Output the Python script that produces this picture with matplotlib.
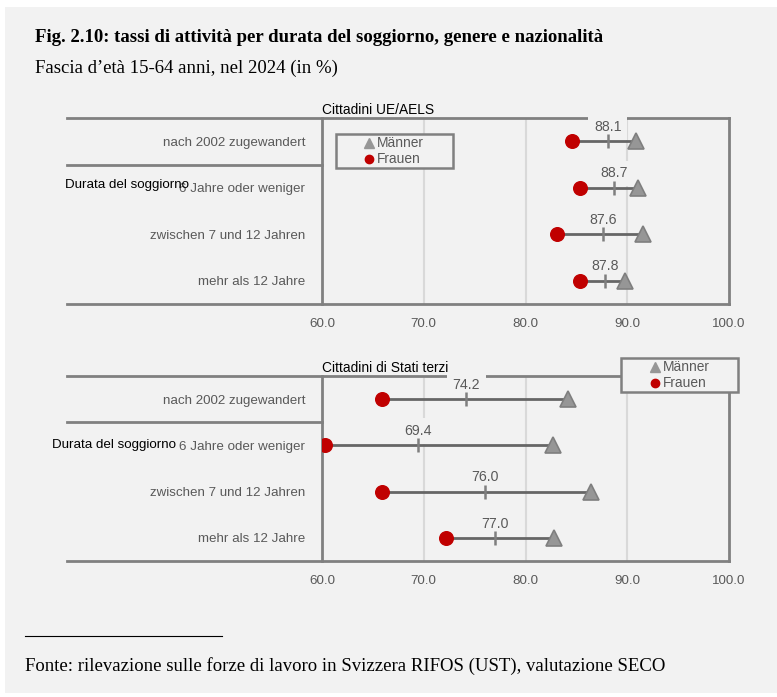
import matplotlib.pyplot as plt
import matplotlib.patches as mpatches
from matplotlib.lines import Line2D

# categories and values (activity rates, %)
ROWS = ["nach 2002 zugewandert", "6 Jahre oder weniger",
        "zwischen 7 und 12 Jahren", "mehr als 12 Jahre"]

EU_WOMEN = [84.6, 85.4, 83.1, 85.4]
EU_MEN = [90.9, 91.1, 91.5, 89.8]
EU_TOTAL = [88.1, 88.7, 87.6, 87.8]

TC_WOMEN = [65.9, 60.3, 65.9, 72.2]
TC_MEN = [84.2, 82.7, 86.4, 82.8]
TC_TOTAL = [74.2, 69.4, 76.0, 77.0]

XTICKS = [60, 70, 80, 90, 100]

BG = "#f2f2f2"
RED = "#c00000"
TRI = "#969696"
TRI_EDGE = "#7f7f7f"
FRAME = "#808080"
TXT = "#595959"

W, H = 777, 697
SANS = ["Liberation Sans", "DejaVu Sans"]
SERIF = ["Liberation Serif", "DejaVu Serif"]
FS = 9.6


def fx(x):
    return x / W


def fy(y):
    return 1 - y / H


def panel(fig, top, bottom, title, women, men, total):
    ax = fig.add_axes([fx(322), fy(bottom), fx(729) - fx(322), (bottom - top) / H])
    ax.set_facecolor("none")
    ypos = list(range(len(ROWS) - 1, -1, -1))

    for g in XTICKS[1:-1]:
        ax.axvline(g, color="#d9d9d9", lw=1.5, zorder=1)

    for y, w, m, t in zip(ypos, women, men, total):
        ax.plot([w, m], [y, y], color="#666666", lw=2, zorder=3)
        ax.plot(t, y, marker="|", ms=9.5, mew=1.8, color=TRI_EDGE, zorder=4)
        ax.plot(m, y, marker="^", ms=11, color=TRI, mec=TRI_EDGE, mew=1.2, zorder=5)
        ax.plot(w, y, marker="o", ms=9.8, color=RED, mec=RED, zorder=6)
        # label box hides frame and grid lines, but not the marks
        ax.text(t, y + 0.31, f"{t:.1f}", ha="center", va="center", fontsize=FS + 0.6,
                family=SANS, color=TXT, zorder=2.7,
                bbox=dict(boxstyle="square,pad=0.4", fc=BG, ec="none"))

    ax.set_xlim(60, 100)
    ax.set_ylim(-0.5, 3.5)
    ax.set_xticks(XTICKS)
    ax.set_xticklabels([f"{v:.1f}" for v in XTICKS], family=SANS, fontsize=FS, color=TXT)
    ax.set_yticks(ypos)
    ax.set_yticklabels(ROWS, family=SANS, fontsize=FS, color=TXT)
    ax.tick_params(length=0)
    ax.tick_params(axis="x", pad=10)
    ax.tick_params(axis="y", pad=12)
    for s in ax.spines.values():
        s.set_visible(False)

    # frame lines
    left = (67 - 322) / 407
    kw = dict(transform=ax.transAxes, color=FRAME, lw=2, clip_on=False, zorder=2.5)
    ax.plot([left, 1], [1, 1], **kw)
    ax.plot([left, 1], [0, 0], **kw)
    ax.plot([0, 0], [0, 1], **kw)
    ax.plot([1, 1], [0, 1], **kw)
    ax.plot([left, 0], [0.75, 0.75], **kw)

    ax.text(0, 1.003, title, transform=ax.transAxes, ha="left", va="bottom",
            fontsize=FS + 0.3, family=SANS, color="black", zorder=8)
    return ax


def legend_box(fig, x0, y0, x1, y1, mx):
    fig.patches.append(mpatches.Rectangle((fx(x0), fy(y1)), fx(x1) - fx(x0), (y1 - y0) / H,
                                          transform=fig.transFigure, fc=BG, ec=FRAME, lw=1.8,
                                          zorder=10))
    ya = y0 + (y1 - y0) * 0.27
    yb = y0 + (y1 - y0) * 0.74
    fig.lines.append(Line2D([fx(mx)], [fy(ya)], marker="^", ms=7, color=TRI, mec=TRI,
                            transform=fig.transFigure, zorder=11))
    fig.lines.append(Line2D([fx(mx)], [fy(yb)], marker="o", ms=6, color=RED, mec=RED,
                            transform=fig.transFigure, zorder=11))
    fig.text(fx(mx + 8), fy(ya), "Männer", ha="left", va="center", fontsize=FS + 0.3,
             family=SANS, color=TXT, zorder=12)
    fig.text(fx(mx + 8), fy(yb), "Frauen", ha="left", va="center", fontsize=FS + 0.3,
             family=SANS, color=TXT, zorder=12)


def main():
    fig = plt.figure(figsize=(W / 100, H / 100), dpi=100, facecolor="white")
    fig.patches.append(mpatches.Rectangle((fx(5), fy(693)), 1, (693 - 7) / H,
                                          transform=fig.transFigure, fc=BG, ec="none",
                                          zorder=-5))

    fig.text(fx(35), fy(38), "Fig. 2.10: tassi di attività per durata del soggiorno, genere e nazionalità",
             ha="left", va="center", fontsize=13.5, fontweight="bold", family=SERIF)
    fig.text(fx(35), fy(68), "Fascia d’età 15-64 anni, nel 2024 (in %)",
             ha="left", va="center", fontsize=13.5, family=SERIF)

    panel(fig, 118, 304, "Cittadini UE/AELS", EU_WOMEN, EU_MEN, EU_TOTAL)
    panel(fig, 376, 561, "Cittadini di Stati terzi", TC_WOMEN, TC_MEN, TC_TOTAL)

    fig.text(fx(65), fy(185), "Durata del soggiorno", ha="left", va="center",
             fontsize=FS, family=SANS, color="black", zorder=9)
    fig.text(fx(52), fy(445), "Durata del soggiorno", ha="left", va="center",
             fontsize=FS, family=SANS, color="black", zorder=9)

    legend_box(fig, 336, 134, 453, 168, 369)
    legend_box(fig, 621, 358, 738, 392, 655)

    # footnote
    fig.lines.append(Line2D([fx(25), fx(222)], [fy(636), fy(636)], color="black", lw=0.8,
                            transform=fig.transFigure))
    fig.text(fx(25), fy(666), "Fonte: rilevazione sulle forze di lavoro in Svizzera RIFOS (UST), valutazione SECO",
             ha="left", va="center", fontsize=13.5, family=SERIF)

    fig.savefig("out.png", dpi=100, facecolor=fig.get_facecolor())


if __name__ == "__main__":
    main()
